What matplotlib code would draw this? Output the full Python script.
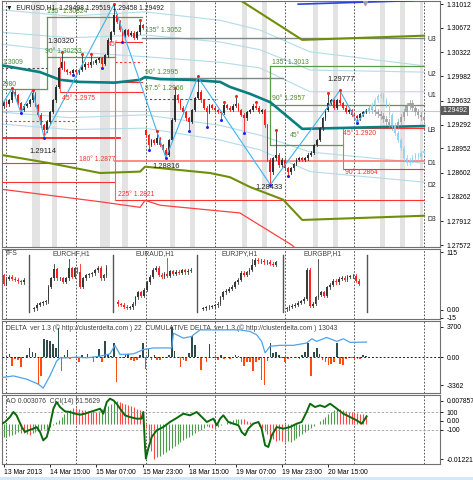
import numpy as np
import matplotlib.pyplot as plt
import matplotlib.transforms as mtransforms
from matplotlib.patches import Rectangle

plt.rcParams['font.family'] = ['Liberation Sans', 'DejaVu Sans']
FS = 4.9

# ---------------- data: EURUSD H1, bar 0 = 13 Mar 2013 23:00 ----------------
close = [1.2961, 1.2958, 1.2964, 1.2976, 1.2971, 1.2960, 1.2950, 1.2956, 1.2958, 1.2964,
         1.2974, 1.2957, 1.2943, 1.2928, 1.2921, 1.2933, 1.2947, 1.2964, 1.2983, 1.3010,
         1.3018, 1.3007, 1.3004, 1.3003, 1.3007, 1.3004, 1.3007, 1.3011, 1.3016, 1.3014,
         1.3018, 1.3017, 1.3021, 1.3024, 1.3016, 1.3028, 1.3050, 1.3061, 1.3085, 1.3076,
         1.3064, 1.3056, 1.3064, 1.3057, 1.3060, 1.3053, 1.3061, 1.3071, 1.3067, 1.2914,
         1.2900, 1.2907, 1.2903, 1.2910, 1.2900, 1.2893, 1.2886, 1.2907, 1.2936, 1.2971,
         1.2964, 1.2953, 1.2947, 1.2938, 1.2933, 1.2950, 1.2967, 1.2976, 1.2964, 1.2953,
         1.2947, 1.2957, 1.2953, 1.2950, 1.2947, 1.2946, 1.2957, 1.2953, 1.2950, 1.2956,
         1.2958, 1.2950, 1.2943, 1.2938, 1.2947, 1.2950, 1.2956, 1.2953, 1.2947, 1.2950,
         1.2928, 1.2879, 1.2861, 1.2881, 1.2886, 1.2871, 1.2879, 1.2867, 1.2861, 1.2867,
         1.2873, 1.2879, 1.2881, 1.2879, 1.2881, 1.2886, 1.2889, 1.2900, 1.2907, 1.2924,
         1.2938, 1.2950, 1.2960, 1.2964, 1.2953, 1.2964, 1.2960, 1.2953, 1.2947, 1.2950,
         1.2943, 1.2941, 1.2938, 1.2944, 1.2947, 1.29492]
first_open = 1.2955
weekend_bar, weekend_open = 49, 1.2921

frac_up_i = [3, 10, 20, 27, 30, 38, 47, 53, 59, 67, 76, 80, 87, 94, 112, 116]
frac_up_p = [1.2981, 1.2978, 1.3032, 1.3029, 1.3029, 1.3100, 1.3078, 1.2919, 1.2981, 1.2997,
             1.2960, 1.2969, 1.2960, 1.2920, 1.2974, 1.29777]
frac_dn_i = [6, 14, 24, 34, 41, 50, 56, 64, 70, 75, 83, 92, 98, 122]
frac_dn_p = [1.2946, 1.29114, 1.3001, 1.3011, 1.3048, 1.2894, 1.28816, 1.2921, 1.2926, 1.2937,
             1.2918, 1.28433, 1.2857, 1.2932]

zz_i = [0, 3, 6, 10, 14, 38, 56, 67, 92, 116, 122, 125]
zz_p = [1.2961, 1.2981, 1.2946, 1.2978, 1.29114, 1.3100, 1.28816, 1.2997, 1.28433, 1.29777, 1.2932, 1.2949]

proj_gray = [1.2953, 1.2950, 1.2947, 1.2944, 1.2941, 1.2937, 1.2933, 1.2929, 1.2926, 1.2927,
             1.2933, 1.2940, 1.2947, 1.2956, 1.2960, 1.2953, 1.2947, 1.2943, 1.2940, 1.2936]
proj_cyan = [1.2951, 1.2957, 1.2964, 1.2970, 1.2971, 1.2964, 1.2957, 1.2943, 1.2929, 1.2917,
             1.2907, 1.2896, 1.2882, 1.2874, 1.2879, 1.2882, 1.2886, 1.2883, 1.2889, 1.2890]

teal_i = [-1, 12.6, 19.5, 26.4, 38.4, 47.1, 48.8, 54, 64.3, 74.7, 78, 85, 92, 103, 145]
teal_p = [1.3014, 1.3004, 1.2993, 1.2990, 1.2989, 1.2993, 1.2997, 1.2994, 1.2993, 1.2990,
          1.2983, 1.2973, 1.2961, 1.2923, 1.2927]
olive_lo_i = [-1, 16, 33.3, 47.1, 48.8, 54, 71.2, 78.1, 85, 96.4, 103, 145]
olive_lo_p = [1.2886, 1.2874, 1.2860, 1.2862, 1.2869, 1.2867, 1.2860, 1.2854, 1.2840, 1.2822, 1.2793, 1.2799]
olive_hi_i = [78, 82.6, 103, 145]
olive_hi_p = [1.3115, 1.3104, 1.3050, 1.3056]
red_curve_i = [-1, 33.3, 47.1, 48.8, 54, 81.5, 99.5, 102]
red_curve_p = [1.2837, 1.2819, 1.2811, 1.2821, 1.2814, 1.2803, 1.2757, 1.2747]
blue_top_i = [101.6, 141.2]
blue_top_p = [1.3101, 1.3106]

band_i = [-1, 22.9, 48.8, 74.7, 88.4, 105.7, 145]
band_up1 = [1.3093, 1.3084, 1.3090, 1.3078, 1.3064, 1.3033, 1.3013]
band_up2 = [1.3061, 1.3053, 1.3057, 1.3047, 1.3036, 1.3007, 1.3004]
band_up3 = [1.3044, 1.3033, 1.3026, 1.3018, 1.3010, 1.2976, 1.2976]
band_dn1 = [1.2947, 1.2939, 1.2943, 1.2928, 1.2914, 1.2890, 1.2874]
band_dn2 = [1.2930, 1.2922, 1.2924, 1.2907, 1.2893, 1.2862, 1.2847]

# (price, from bar, to bar)
green_lv = [(1.3083, 15.0, 47.8), (1.30253, 15.0, 38.4), (1.2980, -1, 15.0),
            (1.3013, 92.0, 145), (1.2957, 92.0, 145), (1.2900, 92.0, 117.1)]
green_vert = [(15.0, 1.2980, 1.3083), (92.0, 1.2900, 1.3013)]
red_lv = [(1.2975, 19.5, 47.8), (1.2990, 38.4, 47.8), (1.3047, 38.4, 47.8),
          (1.2874, -1, 24.7), (1.2847, -1, 38.4), (1.2821, 38.4, 145),
          (1.2924, 117.1, 145), (1.2866, 117.1, 145)]
red_thick = [(1.2910, -1, 40.2)]
red_dash = [(1.3018, 38.4, 47.8), (1.2934, 0.5, 24.7)]
red_vert = [(19.5, 1.2975, 1.3026), (38.4, 1.2821, 1.3047), (117.1, 1.2866, 1.2924)]
pink_lv = [(1.2877, 38.4, 145)]
gray_lv = [(1.3052, 47.8, 145), (1.2995, 48.8, 96.4)]
gray_dash = [(1.3010, -1, 15.0), (1.2966, 48.8, 73.6)]

# (text, bar, price)
green_txt = [("135° 1.30824", 15.0, 1.3090), ("90° 1.30253", 14.3, 1.3033), ("1.3009", -0.5, 1.3018),
             ("2980", -0.5, 1.2987), ("135° 1.3052", 48.8, 1.3064), ("90° 1.2995", 48.8, 1.3004),
             ("87.5° 1.2966", 48.8, 1.2981), ("135° 1.3013", 92.6, 1.3018),
             ("90° 1.2957", 92.6, 1.2966), ("45°", 98.8, 1.2913)]
red_txt = [("45° 1.2975", 20.2, 1.2967), ("45°", 36.0, 1.3043), ("225° 1.2821", 39.5, 1.2830),
           ("45° 1.2920", 117.1, 1.2917), ("90° 1.2864", 117.8, 1.2861)]
black_txt = [("1.30320", 15.3, 1.3047), ("1.29114", 9.1, 1.2890), ("1.28816", 51.5, 1.2870),
             ("1.28433", 86.7, 1.2839), ("1.29777", 111.6, 1.2993)]
zone_names = ["U3", "U2", "U1", "LB", "D1", "D2", "D3"]
zone_p = [1.3050, 1.3001, 1.2970, 1.2921, 1.2873, 1.2842, 1.2793]

band_start = [9.8, 16.7, 33.3, 40.9, 57.4, 64.3, 82.2, 89.1, 106.7, 113.6, 129.8, 136.7, 143.6]
band_width = [2.8, 1.7, 3.4, 2.1, 1.7, 1.7, 1.8, 1.8, 1.7, 1.7, 1.8, 1.7, 1.0]
day_lines = [1, 25, 49, 73, 97, 121, 145]

price_ticks = [1.31012, 1.30672, 1.30322, 1.29982, 1.29632, 1.29292, 1.28952, 1.28602, 1.28262, 1.27912, 1.27572]
last_price = 1.29492

# mini charts (TFS panel)
mini_names = ["", "EURCHF,H1", "EURAUD,H1", "EURJPY,H1", "EURGBP,H1"]
mini_start = [0, 10.5, 39.5, 68.8, 97.6]
mini_open0 = [69, 1, 16, 2, 1]
mini_close = [
    [52, 62, 66, 62, 60, 57, 55, 60],
    [3, 10, 13, 15, 17, 46, 63, 81, 63, 63, 56, 63, 83, 66, 83, 76, 46, 63, 69, 71, 73, 79, 84, 63, 69, 86],
    [11, 10, 6, 4, 5, 12, 25, 35, 28, 40, 55, 66, 80, 84, 70, 66, 72, 68, 77, 72, 76, 74, 79, 75, 78, 80],
    [3, 5, 6, 7, 9, 12, 25, 35, 38, 42, 46, 55, 60, 74, 70, 75, 80, 90, 100, 97, 98, 95, 96, 92, 90, 95],
    [3, 6, 8, 10, 14, 17, 22, 80, 8, 12, 25, 30, 35, 28, 45, 50, 58, 55, 62, 64, 60, 66, 67, 68, 58, 52],
]
mini_spike_k = [[], [7, 12, 16], [17], [17], [11]]
mini_spike_hi = [[], [92, 102, 92], [103], [102], [102]]
mini_sep = [8.8, 37.8, 66.7, 96.4, 125.3]
mini_title_x = [0.3, 23.3, 52.2, 81.5, 110.0]

# delta per bar and cumulative delta
delta = [0, 200, 400, -1000, -200, -300, -1100, 100, 300, 1200,
         700, 500, -3300, -2300, 2200, 2100, 2000, 1600, 1200, 3600,
         -1600, 300, 900, -200, 100, -100, -600, 300, -100, 400,
         100, -500, 200, 1000, -500, 2000, 400, 200, 1700, -3000,
         100, -100, 300, 400, -300, -400, -300, 300, 1700, -1400,
         1000, -300, 300, -300, -300, 100, -100, 300, 3700, 800,
         -100, -1200, -300, -400, 500, 2600, 1500, 100, -1500, 100,
         -500, 1600, 100, -100, -300, 300, -200, 100, -200, 100,
         300, 200, -600, -1000, -500, -600, -1600, -500, -300, -2700,
         -3362, -400, 1700, 500, 700, 300, -100, -600, -200, 100,
         100, -100, -200, 300, 700, 1800, -2300, 700, 1200, 400,
         -300, -600, -900, -800, -500, 1800, -800, -900, -200, -100,
         -100, -200, -200, -200, 300, 200]
cum_i = [-0.5, 3.4, 8.0, 12.0, 13.7, 16.0, 18.3, 19.5, 21.8, 25.2, 28.7, 33.3, 36.7, 38.4, 40.2,
         44.8, 48.2, 51.7, 56.3, 58.0, 58.6, 62.0, 64.9, 65.5, 67.8, 77.0, 81.6, 85.0, 87.3, 89.0,
         90.2, 91.9, 95.3, 100.0, 104.5, 106.3, 108.0, 111.4, 114.9, 117.2, 119.5, 125.2]
cum_v = [-1354, -687, -2020, -4020, -5619, -687, 5312, 6645, 6645, 6911, 6645, 7311, 8244, 11710, 7978,
         8244, 9977, 10644, 10644, 10644, 16642, 14643, 15309, 15976, 17975, 17975, 17975, 17309, 15976, 13310,
         8644, 11310, 11710, 11710, 12643, 14376, 13310, 14909, 13310, 14376, 12910, 13043]

# Awesome oscillator (x 1e-3) and CCI(14)
ao = [-4.8, -4.5, -4.2, -3.8, -3.5, -3.0, -3.2, -3.4, -3.6, -3.8,
      -3.4, -3.0, -2.6, -2.2, -1.8, -2.1, -1.2, -0.4, 0.4, 1.2,
      2.2, 3.1, 4.0, 4.8, 5.4, 5.2, 5.0, 4.8, 4.6, 4.4,
      4.3, 4.2, 4.1, 4.4, 4.9, 5.4, 6.0, 6.8, 7.4, 7.857,
      7.5, 7.1, 6.7, 6.3, 5.9, 5.5, 5.1, 4.7, 4.3, -1.5,
      -5.5, -9.5, -12.214, -11.6, -11.0, -10.4, -9.8, -9.1, -8.5, -7.8,
      -7.1, -6.4, -5.8, -5.1, -4.5, -3.9, -3.3, -2.7, -2.1, -1.5,
      -1.0, -1.3, -1.6, -1.8, -1.2, -0.6, -0.1, 0.4, 0.8, 1.1,
      1.4, 1.6, 1.7, 1.4, 1.0, 0.6, 0.2, -0.3, -0.9, -1.6,
      -2.5, -3.5, -4.5, -5.3, -5.9, -5.6, -6.0, -6.3, -6.0, -6.2,
      -5.6, -4.9, -4.2, -3.5, -2.8, -2.1, -1.4, -0.7, 0.0, 0.8,
      1.6, 2.4, 3.2, 4.0, 4.7, 5.3, 5.0, 4.7, 4.4, 4.1,
      3.9, 3.7, 3.5, 3.3, 3.2, 3.076]
cci_i = [-0.5, 0.5, 2.2, 3.4, 4.5, 6.3, 7.4, 8.6, 10.3, 11.4, 12.6, 13.7, 14.9, 16.0, 17.2, 18.3, 19.5,
         21.2, 22.9, 24.7, 26.4, 28.1, 29.8, 31.6, 33.3, 34.4, 35.6, 36.7, 37.9, 39.0, 40.2, 41.9,
         43.6, 45.9, 47.6, 48.2, 48.8, 49.1, 49.9, 51.1, 52.8, 55.1, 57.4, 59.7, 62.0, 64.3, 66.6,
         67.8, 70.1, 71.2, 72.4, 73.5, 74.7, 75.8, 77.5, 79.3, 81.0, 82.1, 83.3, 84.4, 86.1, 87.9,
         89.0, 90.2, 91.3, 92.5, 94.2, 96.5, 98.8, 101.1, 102.8, 104.5, 105.7, 107.4, 109.1, 110.8,
         112.6, 113.7, 114.9, 117.2, 119.5, 121.8, 123.5, 124.7, 125.2]
cci_v = [-30, -11, 44, 100, 63, -67, -122, -104, -85, -67, -122, -215, -178, -48, 137, 211, 155,
         107, 100, 81, 70, 81, 100, 118, 137, 81, 211, 248, 229, 192, 137, 63,
         44, 26, 26, 100, -289, -418, -307, -178, -104, -67, -11, 33, 81, 63, 100,
         63, -11, 7, 26, -48, 26, 63, -11, -30, -48, -122, -159, -85, -30, -11,
         -85, -270, -289, -159, -67, -85, -67, -30, -11, 100, 192, 155, 174, 155,
         192, 167, 137, 81, 44, 7, -30, 26, 51.56]

time_ticks = [0, 16, 32, 48, 64, 80, 96, 112]
time_labels = ["13 Mar 2013", "14 Mar 15:00", "15 Mar 07:00", "15 Mar 23:00",
               "18 Mar 15:00", "19 Mar 07:00", "19 Mar 23:00", "20 Mar 15:00"]

# ---------------- figure ----------------
W, H = 473, 480
fig = plt.figure(figsize=(W / 100, H / 100), dpi=100)


def px_axes(x0, y0, x1, y1):
    return fig.add_axes([x0 / W, 1 - y1 / H, (x1 - x0) / W, (y1 - y0) / H])


ax_main = px_axes(2, 1, 440, 247)
ax_tfs = px_axes(2, 249, 440, 319)
ax_dlt = px_axes(2, 321, 440, 393)
ax_ao = px_axes(2, 395, 440, 464)
XLIM = (-0.52, 150.5)


def right_ticks(ax, ticks, labels):
    ax.yaxis.tick_right()
    ax.yaxis.set_label_position('right')
    ax.set_yticks(ticks)
    ax.set_yticklabels(labels)
    ax.tick_params(axis='y', direction='out', length=2, width=0.6, pad=2.5, labelsize=FS, right=True, labelright=True)


def style(ax, ylim):
    ax.set_xlim(*XLIM)
    ax.set_ylim(*ylim)
    ax.tick_params(axis='x', length=0, labelbottom=False)
    for s in ax.spines.values():
        s.set_color('#707070')
        s.set_linewidth(0.8)
    for d in day_lines:
        ax.axvline(d, color='#3a3a3a', lw=0.6, ls=(0, (2, 2)), zorder=2)


def draw_candles(ax, x, o, c, hi, lo, w, bull, bear, min_h, z=5, lw=0.6, alpha=1.0):
    for xi, oi, ci, hh, ll in zip(x, o, c, hi, lo):
        col = bull if ci >= oi else bear
        ax.plot([xi, xi], [ll, hh], color=col, lw=lw, zorder=z, alpha=alpha)
        b0, b1 = min(oi, ci), max(oi, ci)
        ax.add_patch(Rectangle((xi - w / 2, b0), w, max(b1 - b0, min_h),
                               facecolor=col, edgecolor='none', zorder=z, alpha=alpha))


# ---- main price panel ----
style(ax_main, (1.27544, 1.31055))
right_ticks(ax_main, price_ticks, [f"{p:.5f}" for p in price_ticks])
for s, w in zip(band_start, band_width):
    ax_main.axvspan(s, s + w, color='#e3e3e3', lw=0, zorder=0)

for b in (band_up1, band_up2, band_up3, band_dn1, band_dn2):
    ax_main.plot(band_i, b, color='#b2dcea', lw=0.8, zorder=1)
ax_main.axhline(last_price, color='#c8c8c8', lw=0.8, zorder=1)

for p, a, b in green_lv:
    ax_main.plot([a, b], [p, p], color='#5b9a4a', lw=0.9, zorder=3)
for x, a, b in green_vert:
    ax_main.plot([x, x], [a, b], color='#5b9a4a', lw=0.9, zorder=3)
for p, a, b in red_lv:
    ax_main.plot([a, b], [p, p], color='#ff3030', lw=0.8, zorder=3)
for p, a, b in red_thick:
    ax_main.plot([a, b], [p, p], color='#ff2020', lw=1.3, zorder=3)
for p, a, b in red_dash:
    ax_main.plot([a, b], [p, p], color='#ff3030', lw=0.8, ls=(0, (2, 2)), zorder=3)
for x, a, b in red_vert:
    ax_main.plot([x, x], [a, b], color='#ff6060', lw=0.8, zorder=3)
for p, a, b in pink_lv:
    ax_main.plot([a, b], [p, p], color='#ff7070', lw=1.4, alpha=0.8, zorder=3)
for p, a, b in gray_lv:
    ax_main.plot([a, b], [p, p], color='#7a8a8a', lw=1.0, zorder=3)
for p, a, b in gray_dash:
    ax_main.plot([a, b], [p, p], color='#505050', lw=0.8, ls=(0, (2, 2)), zorder=3)

ax_main.plot(red_curve_i, red_curve_p, color='#ff4040', lw=0.9, zorder=3)
ax_main.plot(olive_lo_i, olive_lo_p, color='#6f8f0a', lw=1.5, zorder=3)
ax_main.plot(olive_hi_i, olive_hi_p, color='#6f8f0a', lw=1.5, zorder=3)
ax_main.plot(blue_top_i, blue_top_p, color='#2a40e0', lw=1.2, zorder=3)
ax_main.plot(teal_i, teal_p, color='#0a7f80', lw=1.9, zorder=4)

# candles
bars = np.arange(len(close))
c_arr = np.array(close)
o_arr = np.r_[first_open, c_arr[:-1]]
o_arr[weekend_bar] = weekend_open
hi_arr = np.maximum(o_arr, c_arr) + 0.0002
lo_arr = np.minimum(o_arr, c_arr) - 0.0002
hi_arr[frac_up_i] = np.maximum(hi_arr[frac_up_i], frac_up_p)
lo_arr[frac_dn_i] = np.minimum(lo_arr[frac_dn_i], frac_dn_p)
draw_candles(ax_main, bars, o_arr, c_arr, hi_arr, lo_arr, 0.62, '#2e2e2e', '#ff1a1a', 0.00005)

# projection ghosts
proj_x = np.arange(len(close), len(close) + len(proj_gray))
g = np.array(proj_gray)
g_o = np.r_[close[-1], g[:-1]]
draw_candles(ax_main, proj_x, g_o, g, np.maximum(g_o, g) + 0.0004, np.minimum(g_o, g) - 0.0004,
             0.8, '#9c9c9c', '#9c9c9c', 0.0003, z=4, alpha=0.85)
cy = np.array(proj_cyan)
cy_o = np.r_[close[-1], cy[:-1]]
draw_candles(ax_main, proj_x, cy_o, cy, np.maximum(cy_o, cy) + 0.0003, np.minimum(cy_o, cy) - 0.0003,
             0.5, '#8cd2f2', '#8cd2f2', 0.0002, z=4, alpha=0.9)

ax_main.plot(zz_i, zz_p, color='#3cb4ee', lw=0.8, zorder=6)
ax_main.plot(frac_up_i, np.array(frac_up_p) + 0.00008, 'o', color='#ff2020', ms=2.2, mew=0, zorder=7)
ax_main.plot(frac_dn_i, np.array(frac_dn_p) - 0.00008, 'o', color='#2020ff', ms=2.2, mew=0, zorder=7)

for t, x, y in green_txt:
    ax_main.text(x, y, t, color='#4f8a30', fontsize=FS, va='center', zorder=8)
for t, x, y in red_txt:
    ax_main.text(x, y, t, color='#ff3030', fontsize=FS, va='center', zorder=8)
ax_main.text(38.4, 1.2879, "180° 1.2877", color='#ff3030', fontsize=FS, va='center', ha='right', zorder=8)
for t, x, y in black_txt:
    ax_main.text(x, y, t, color='#202020', fontsize=FS + 0.5, va='center', zorder=8)
for t, y in zip(zone_names, zone_p):
    ax_main.text(146.3, y, t, color='#202020', fontsize=FS, va='center', zorder=8)

ax_main.text(0.01, 0.972, "\u25bc  EURUSD,H1  1.29498 1.29519 1.29458 1.29492", transform=ax_main.transAxes,
             fontsize=FS, va='center', color='#202020', zorder=9)
ax_main.plot([124.6], [1.3103], marker='v', color='#a0a0a0', ms=3, zorder=6)
tr = mtransforms.blended_transform_factory(ax_main.transAxes, ax_main.transData)
ax_main.text(1.006, last_price, "1.29492", transform=tr, fontsize=FS, color='white', va='center',
             bbox=dict(facecolor='#5a5a5a', edgecolor='none', pad=0.9), zorder=10, clip_on=False)

# ---- TFS panel ----
style(ax_tfs, (-17.9, 121))
right_ticks(ax_tfs, [115, 0, -15], ["115", "0.00", "-15"])
for s in mini_sep:
    ax_tfs.plot([s, s], [-4, 109], color='#555555', lw=1.0, zorder=3)
for name, tx in zip(mini_names, mini_title_x):
    if name:
        ax_tfs.text(tx, 112, name, fontsize=FS, color='#404040', ha='center', va='center')
ax_tfs.text(0.3, 112, "TFS", fontsize=FS, color='#404040', va='center')
for start, o0, cl, sk, sh in zip(mini_start, mini_open0, mini_close, mini_spike_k, mini_spike_hi):
    c_m = np.array(cl, dtype=float)
    o_m = np.r_[o0, c_m[:-1]]
    h_m = np.maximum(o_m, c_m) + 3
    l_m = np.minimum(o_m, c_m) - 3
    h_m[sk] = sh
    draw_candles(ax_tfs, start + np.arange(len(cl)), o_m, c_m, h_m, l_m, 0.62, '#3a3a3a', '#ff2020', 0.6)

# ---- delta panel ----
style(ax_dlt, (-4298, 4418))
d = np.array(delta)
ax_dlt.bar(np.arange(len(d)), d, width=0.55, color=np.where(d >= 0, '#2f4a4a', '#ff4a10'), zorder=3)
ax_dlt.axhline(0, color='#202020', lw=0.7, ls=(0, (2, 2)), zorder=4)
ax_cum = ax_dlt.twinx()
ax_cum.set_ylim(-7619, 21574)
ax_cum.set_yticks([])
ax_cum.plot(cum_i, cum_v, color='#4da3f0', lw=0.9, zorder=5)
for s in ax_cum.spines.values():
    s.set_visible(False)
right_ticks(ax_dlt, [3700, 0, -3362], ["3700", "0.00", "-3362"])
ax_dlt.text(0.01, 0.9, "DELTA  ver 1.3 (© http://clusterdelta.com ) 22  CUMULATIVE DELTA  ver 1.3 "
            "(© http://clusterdelta.com ) 13043", transform=ax_dlt.transAxes, fontsize=FS,
            color='#404040', va='center')

# ---- AO / CCI panel ----
style(ax_ao, (-0.01391, 0.00979))
a = np.array(ao)
up = np.r_[True, a[1:] > a[:-1]]
ax_ao.vlines(np.arange(len(a)), 0, a * 1e-3, colors=np.where(up, '#4c9c4c', '#ff4848'), lw=0.8, zorder=3)
ax_cci = ax_ao.twinx()
ax_cci.set_xlim(*XLIM)
ax_cci.set_ylim(-478, 289)
right_ticks(ax_cci, [100, 0, -100], ["100", "0.00", "-100"])
for s in ax_cci.spines.values():
    s.set_visible(False)
for lv in (100, -100):
    ax_cci.axhline(lv, color='#a0a0a0', lw=0.6, ls=(0, (3, 2)), zorder=2)
ax_cci.plot(cci_i, cci_v, color='#0b6a0b', lw=1.4, zorder=5)
right_ticks(ax_ao, [0.007857, -0.012214], ["0.007857", "-0.012214"])
ax_ao.text(0.01, 0.9, "AO 0.003076  CCI(14) 51.5629", transform=ax_ao.transAxes, fontsize=FS,
           color='#404040', va='center')

ax_ao.set_xticks(time_ticks)
ax_ao.set_xticklabels(time_labels)
ax_ao.tick_params(axis='x', length=2, width=0.6, pad=1.5, labelsize=FS, labelbottom=True, direction='out')
for lbl in ax_ao.get_xticklabels():
    lbl.set_ha('left')

fig.patches.append(Rectangle((0, 0), 1, 3 / H, transform=fig.transFigure, facecolor='#d6e8f7',
                             edgecolor='none'))

fig.savefig("out.png", dpi=100)
